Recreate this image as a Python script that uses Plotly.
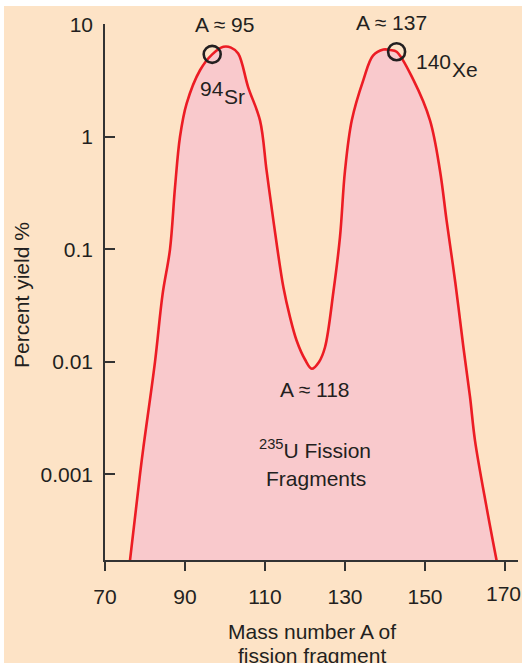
import plotly.graph_objects as go

# ---- data ----
mass_number = [76.0, 78.75, 79.6, 82.5, 84.4, 86.25, 87.5, 88.75, 90.4, 93.75,
               96.8, 99.6, 101.5, 103.3, 105.8, 108.75, 110.4, 112.1, 114.6,
               116.25, 117.9, 120.0, 121.7, 123.5, 125.0, 127.1, 128.75, 130.0,
               131.7, 134.6, 137.0, 139.6, 141.3, 142.9, 147.1, 151.25, 153.75,
               155.4, 157.6, 159.6, 161.25, 162.5, 165.4, 168.3]
percent_yield = [0.000145, 0.001, 0.00174, 0.01, 0.04, 0.1, 0.355, 1.0, 1.97, 3.9,
                 5.4, 6.3, 6.2, 5.5, 2.75, 1.4, 0.5, 0.18, 0.046,
                 0.025, 0.0155, 0.0105, 0.0087, 0.01, 0.0135, 0.042, 0.129, 0.5,
                 1.4, 3.2, 5.25, 5.95, 5.9, 5.7, 3.2, 1.4, 0.5,
                 0.18, 0.05, 0.0135, 0.0049, 0.002, 0.00051, 0.000145]

marked_A = [96.8, 142.9]
marked_yield = [5.4, 5.7]

x_ticks = [70, 90, 110, 130, 150, 170]
x_tick_text = ["70", "90", "110", "130", "150", "170"]
y_ticks = [0.001, 0.01, 0.1, 1, 10]
y_tick_text = ["0.001", "0.01", "0.1", "1", "10"]

# ---- styling ----
W, H = 522, 663
L, R, T, B = 105, 4, 24, 103
PW, PH = W - L - R, H - T - B
BEIGE = "#FDE3C6"
PINK = "#F9C9CC"
RED = "#EC1C24"
INK = "#231F20"
FONT = "Liberation Sans, Arial, sans-serif"
FS = 21


def px(xp):
    return (xp - L) / PW


def py(yp):
    return (H - B - yp) / PH


fig = go.Figure()
fig.add_trace(go.Scatter(
    x=mass_number, y=percent_yield, mode="lines", fill="toself",
    fillcolor=PINK, line=dict(color=RED, width=2.6, shape="spline", smoothing=1.0),
    hoverinfo="skip", showlegend=False))
fig.add_trace(go.Scatter(
    x=marked_A, y=marked_yield, mode="markers",
    marker=dict(symbol="circle-open", size=17, color=INK, line=dict(width=2.6, color=INK)),
    showlegend=False))

anns = [
    ("A ≈ 95", 224, 24),
    ("A ≈ 137", 391, 23),
    ("94", 211.5, 88),
    ("Sr", 234.5, 96),
    ("140", 433, 61),
    ("Xe", 465, 69),
    ("A ≈ 118", 315, 390),
    ("<sup>235</sup>U Fission", 315, 449),
    ("Fragments", 315.5, 478),
    ("Mass number A of", 311.5, 631),
    ("fission fragment", 311.5, 655),
]
annotations = []
for text, xp, yp in anns:
    annotations.append(dict(text=text, x=px(xp), y=py(yp), xref="paper", yref="paper",
                            showarrow=False, xanchor="center", yanchor="middle",
                            font=dict(family=FONT, size=FS, color=INK)))
annotations.append(dict(text="Percent yield %", x=px(21), y=py(295), xref="paper", yref="paper",
                        showarrow=False, textangle=-90, xanchor="center", yanchor="middle",
                        font=dict(family=FONT, size=FS, color=INK)))
# last x tick label sits on the right edge of the figure (cut in the original)
annotations.append(dict(text=x_tick_text[-1], x=px(W + 1), y=py(593), xref="paper", yref="paper",
                        showarrow=False, xanchor="right", yanchor="middle",
                        font=dict(family=FONT, size=FS, color=INK)))

fig.update_layout(
    width=W, height=H,
    margin=dict(l=L, r=R, t=T, b=B, pad=0),
    paper_bgcolor="white",
    plot_bgcolor="rgba(0,0,0,0)",
    font=dict(family=FONT, size=FS, color=INK),
    annotations=annotations,
    shapes=[dict(type="rect", xref="paper", yref="paper", layer="below",
                 x0=px(4), x1=px(W), y0=py(H), y1=py(6),
                 fillcolor=BEIGE, line=dict(width=0))],
    xaxis=dict(range=[70, 173.25], tickvals=x_ticks[:-1], ticktext=x_tick_text[:-1],
               ticks="outside", ticklen=9,
               tickwidth=1.5, tickcolor="#333", showline=True, linecolor="#333",
               linewidth=1.5, showgrid=False, zeroline=False, ticklabelstandoff=8,
               minor=dict(tickvals=x_ticks[-1:], ticks="outside", ticklen=9,
                          tickwidth=1.5, tickcolor="#333", showgrid=False),
               tickfont=dict(family=FONT, size=FS, color=INK)),
    yaxis=dict(type="log", range=[-3.76, 1.002], tickvals=y_ticks, ticktext=y_tick_text,
               ticks="inside", ticklen=10, tickwidth=1.5, tickcolor="#333",
               showline=True, linecolor="#333", linewidth=1.5, showgrid=False,
               zeroline=False, ticklabelstandoff=6,
               tickfont=dict(family=FONT, size=FS, color=INK)),
)

fig.write_html("out.html")
